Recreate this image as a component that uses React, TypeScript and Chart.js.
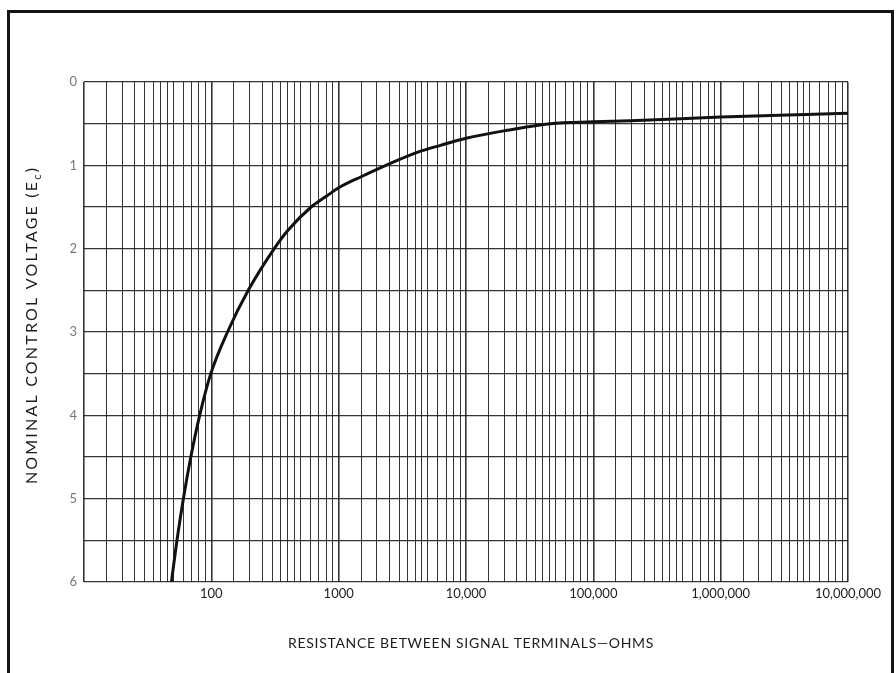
import React, { useEffect, useRef } from "react";
import { Chart, registerables } from "chart.js";

Chart.register(...registerables);

// Curve (resistance in ohms, nominal control voltage)
const RESISTANCE = [48.6, 53.7, 60.3, 69, 81, 99, 134, 195, 312, 400, 608, 800, 1000, 1500, 2350, 4400, 6300, 10000, 21000, 46000, 100000, 195000, 1000000, 10000000];
const VOLTAGE = [6, 5.5, 5, 4.5, 4, 3.5, 3, 2.5, 2, 1.78, 1.5, 1.372, 1.27, 1.137, 1.0, 0.83, 0.76, 0.675, 0.58, 0.5, 0.478, 0.465, 0.42, 0.376];

// Axis labels
const X_TICK_VALUES = [100, 1000, 10000, 100000, 1000000, 10000000];
const X_TICK_LABELS = ["100", "1000", "10,000", "100,000", "1,000,000", "10,000,000"];
const Y_TICK_LABELS = ["0", "1", "2", "3", "4", "5", "6"];

// Grid subdivisions of each decade on the log paper
const DECADES = [10, 100, 1000, 10000, 100000, 1000000];
const DECADE_STEPS = [1, 1.5, 2, 2.5, 3, 3.5, 4, 4.5, 5, 6, 7, 8, 9];
const X_MIN = 10;
const X_MAX = 10000000;

const X_TITLE = "RESISTANCE BETWEEN SIGNAL TERMINALS\u2014OHMS";
const Y_TITLE_MAIN = "NOMINAL CONTROL VOLTAGE (E";
const Y_TITLE_SUB = "c";
const Y_TITLE_END = ")";

const FONT = "Lato";

export default function App() {
  const canvasRef = useRef<HTMLCanvasElement | null>(null);

  useEffect(() => {
    const canvas = canvasRef.current;
    if (!canvas) return;

    const gridValues: number[] = [];
    DECADES.forEach((d) => DECADE_STEPS.forEach((s) => gridValues.push(Math.round(s * d * 10) / 10)));
    gridValues.push(X_MAX);

    const isDecade = (v: number) => {
      const l = Math.log10(v);
      return Math.abs(l - Math.round(l)) < 1e-9;
    };

    const titlesPlugin = {
      id: "titles",
      afterDraw(chart: any) {
        const { ctx, chartArea } = chart;
        ctx.save();
        ctx.fillStyle = "#1c1c1c";
        ctx.font = `14px ${FONT}`;
        (ctx as any).letterSpacing = "0.7px";
        ctx.textAlign = "center";
        ctx.textBaseline = "middle";
        ctx.fillText(X_TITLE, (chartArea.left + chartArea.right) / 2 + 5, chartArea.bottom + 61);

        // Y title with subscript
        ctx.translate(32, (chartArea.top + chartArea.bottom) / 2 - 7);
        ctx.rotate(-Math.PI / 2);
        ctx.textAlign = "left";
        ctx.textBaseline = "middle";
        const mainFont = `16px ${FONT}`;
        const subFont = `11px ${FONT}`;
        (ctx as any).letterSpacing = "2.2px";
        ctx.font = mainFont;
        const wMain = ctx.measureText(Y_TITLE_MAIN).width;
        const wEnd = ctx.measureText(Y_TITLE_END).width;
        ctx.font = subFont;
        const wSub = ctx.measureText(Y_TITLE_SUB).width;
        const total = wMain + wSub + wEnd;
        const x0 = -total / 2;
        ctx.font = mainFont;
        ctx.fillText(Y_TITLE_MAIN, x0, 0);
        ctx.font = subFont;
        ctx.fillText(Y_TITLE_SUB, x0 + wMain, 5);
        ctx.font = mainFont;
        ctx.fillText(Y_TITLE_END, x0 + wMain + wSub, 0);
        ctx.restore();
      },
    };

    const chart = new Chart(canvas, {
      type: "line",
      data: {
        datasets: [
          {
            data: RESISTANCE.map((r, i) => ({ x: r, y: VOLTAGE[i] })),
            borderColor: "#111111",
            borderWidth: 3,
            pointRadius: 0,
            fill: false,
            cubicInterpolationMode: "monotone",
          },
        ],
      },
      options: {
        animation: false,
        responsive: false,
        devicePixelRatio: 1,
        layout: { padding: { left: 0, right: 48, top: 82, bottom: 0 } },
        plugins: {
          legend: { display: false },
          tooltip: { enabled: false },
        },
        scales: {
          x: {
            type: "logarithmic",
            min: X_MIN,
            max: X_MAX,
            afterBuildTicks: (scale: any) => {
              scale.ticks = gridValues.map((v) => ({ value: v }));
            },
            afterFit: (scale: any) => {
              scale.height = 91;
            },
            border: { display: false },
            grid: {
              drawTicks: false,
              color: "rgba(25,25,25,0.88)",
              lineWidth: (c: any) => (c.tick && isDecade(c.tick.value) ? 1.6 : 1),
            },
            ticks: {
              autoSkip: false,
              maxRotation: 0,
              minRotation: 0,
              padding: 4,
              color: "#1e1e1e",
              font: { family: FONT, size: 13 },
              callback: (value: any) => {
                const i = X_TICK_VALUES.findIndex((v) => Math.abs(v - Number(value)) < 1e-6);
                return i >= 0 ? X_TICK_LABELS[i] : "";
              },
            },
          },
          y: {
            type: "linear",
            min: 0,
            max: 6,
            reverse: true,
            afterFit: (scale: any) => {
              scale.width = 84;
            },
            border: { display: false },
            grid: {
              drawTicks: false,
              color: "rgba(25,25,25,0.88)",
              lineWidth: 1.3,
            },
            ticks: {
              stepSize: 0.5,
              autoSkip: false,
              padding: 7,
              color: "#777777",
              font: { family: FONT, size: 13 },
              callback: (value: any) => {
                const v = Number(value);
                return Number.isInteger(v) ? Y_TICK_LABELS[v] : "";
              },
            },
          },
        },
      },
      plugins: [titlesPlugin],
    } as any);

    return () => chart.destroy();
  }, []);

  return (
    <div
      style={{
        position: "absolute",
        left: 0,
        top: 0,
        width: 896,
        height: 673,
        overflow: "hidden",
        background: "#ffffff",
      }}
    >
      <canvas ref={canvasRef} width={896} height={673} style={{ width: 896, height: 673, display: "block" }} />
      <div
        style={{
          position: "absolute",
          left: 7,
          top: 10,
          width: 887,
          height: 720,
          boxSizing: "border-box",
          borderTop: "3px solid #161616",
          borderLeft: "3px solid #161616",
          borderRight: "3px solid #161616",
          pointerEvents: "none",
        }}
      />
    </div>
  );
}
